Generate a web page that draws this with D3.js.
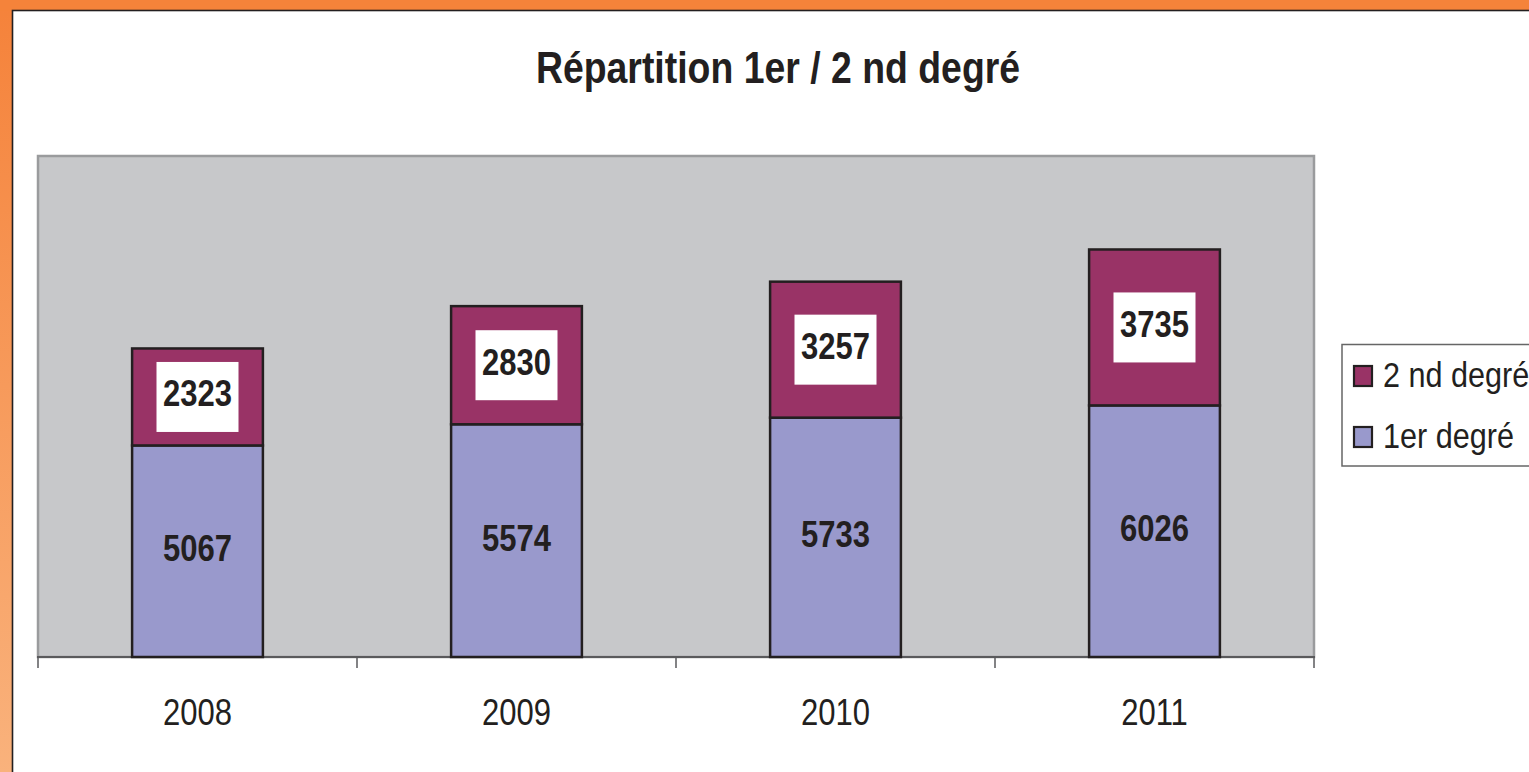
<!DOCTYPE html>
<html><head><meta charset="utf-8">
<script src="https://cdn.jsdelivr.net/npm/d3@7"></script>
<style>html,body{margin:0;padding:0;background:#fff;overflow:hidden}svg{display:block}</style>
</head><body>
<script>
const years = ["2008", "2009", "2010", "2011"];
const premierDegre = [5067, 5574, 5733, 6026];
const secondDegre = [2323, 2830, 3257, 3735];
const seriesNames = ["2 nd degré", "1er degré"];
const seriesColors = ["#993366", "#9999CC"];
const titleText = "Répartition 1er / 2 nd degré";

const W = 1529, H = 772;
const svg = d3.select("body").append("svg").attr("width", W).attr("height", H);
const FONT = "'Liberation Sans', Arial, sans-serif";
const SX = 0.85;
const ink = "#231f20";

// orange frame
const defs = svg.append("defs");
const g1 = defs.append("linearGradient").attr("id", "og").attr("x1", 0).attr("y1", 0).attr("x2", 0).attr("y2", 1);
g1.append("stop").attr("offset", 0).attr("stop-color", "#f5823a");
g1.append("stop").attr("offset", 1).attr("stop-color", "#f9b27c");
svg.append("rect").attr("x", 0).attr("y", 0).attr("width", W).attr("height", H).attr("fill", "url(#og)");
svg.append("rect").attr("x", 0).attr("y", 0).attr("width", W).attr("height", 11).attr("fill", "#f5833a");
svg.append("rect").attr("x", 12.5).attr("y", 10.5).attr("width", W).attr("height", H).attr("fill", "#fff")
  .attr("stroke", ink).attr("stroke-width", 1.6);

function txt(sel, x, y, s, size, weight, anchor) {
  return sel.append("text")
    .attr("transform", `translate(${x},${y}) scale(${SX},1)`)
    .attr("text-anchor", anchor || "middle")
    .attr("font-family", FONT).attr("font-size", size).attr("font-weight", weight || "normal")
    .attr("fill", ink).text(s);
}

// title
txt(svg, 778, 83, titleText, 44, "bold");

// plot area
const plot = {x0: 38, x1: 1314, y0: 156, y1: 657};
svg.append("rect").attr("x", plot.x0).attr("y", plot.y0)
  .attr("width", plot.x1 - plot.x0).attr("height", plot.y1 - plot.y0)
  .attr("fill", "#c7c8ca").attr("stroke", "#9a9b9d").attr("stroke-width", 2.5);

const x = d3.scaleBand().domain(years).range([plot.x0, plot.x1]).paddingInner(0.59).paddingOuter(0.295);
const y = d3.scaleLinear().domain([0, 12000]).range([plot.y1, plot.y0]);

// axis
const axisG = svg.append("g").attr("transform", `translate(0,${plot.y1})`);
axisG.append("line").attr("x1", plot.x0 - 1).attr("x2", plot.x1 + 1).attr("y1", 0).attr("y2", 0)
  .attr("stroke", "#5a5a5c").attr("stroke-width", 2);
const edges = d3.range(years.length + 1).map(i => plot.x0 + i * x.step());
axisG.selectAll("line.tick").data(edges).join("line").attr("class", "tick")
  .attr("x1", d => d).attr("x2", d => d).attr("y1", 0).attr("y2", 11)
  .attr("stroke", "#5a5a5c").attr("stroke-width", 1.5);
years.forEach(yr => txt(svg, x(yr) + x.bandwidth() / 2, 725, yr, 36.5));

// stacked bars
const rows = years.map((yr, i) => ({year: yr, a: premierDegre[i], b: secondDegre[i]}));
const bw = x.bandwidth();
rows.forEach(r => {
  const cx = x(r.year) + bw / 2;
  // 1er degré
  svg.append("rect").attr("x", x(r.year)).attr("y", y(r.a)).attr("width", bw).attr("height", y(0) - y(r.a))
    .attr("fill", seriesColors[1]).attr("stroke", ink).attr("stroke-width", 2.5);
  // 2nd degré
  svg.append("rect").attr("x", x(r.year)).attr("y", y(r.a + r.b)).attr("width", bw).attr("height", y(r.a) - y(r.a + r.b))
    .attr("fill", seriesColors[0]).attr("stroke", ink).attr("stroke-width", 2.5);
  // labels
  const c1 = (y(0) + y(r.a)) / 2;
  txt(svg, cx, c1 + 10, r.a, 36.5, "bold");
  const c2 = (y(r.a) + y(r.a + r.b)) / 2;
  svg.append("rect").attr("x", cx - 41).attr("y", c2 - 35).attr("width", 82).attr("height", 70).attr("fill", "#fff");
  txt(svg, cx, c2 + 9.5, r.b, 36.5, "bold");
});

// legend
const leg = svg.append("g");
leg.append("rect").attr("x", 1342).attr("y", 344.5).attr("width", 220).attr("height", 121.5)
  .attr("fill", "#fff").attr("stroke", "#666").attr("stroke-width", 1.5);
seriesNames.forEach((n, i) => {
  const yy = 366 + i * 61;
  leg.append("rect").attr("x", 1354).attr("y", yy).attr("width", 18).attr("height", 20)
    .attr("fill", seriesColors[i]).attr("stroke", ink).attr("stroke-width", 2.2);
  txt(leg, 1383, yy + 21, n, 36, "normal", "start");
});
</script>
</body></html>
